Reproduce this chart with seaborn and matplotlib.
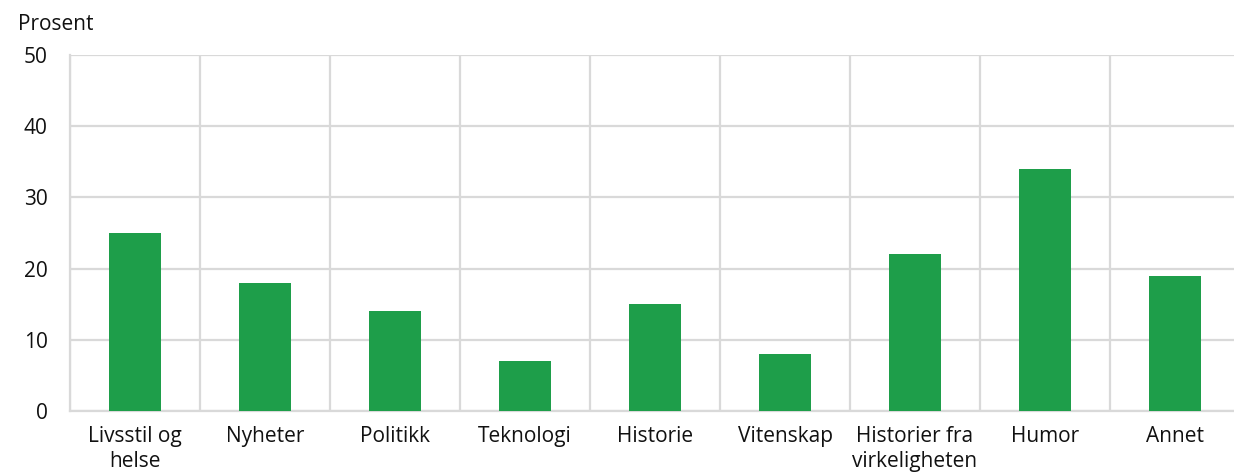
import pandas as pd
import numpy as np
import matplotlib
matplotlib.use('Agg')
import matplotlib.pyplot as plt
import seaborn as sns

categories = ["Livsstil og\nhelse", "Nyheter", "Politikk", "Teknologi", "Historie",
              "Vitenskap", "Historier fra\nvirkeligheten", "Humor", "Annet"]
values = [25, 18, 14, 7, 15, 8, 22, 34, 19]
yticks = [0, 10, 20, 30, 40, 50]

df = pd.DataFrame({"kategori": categories, "prosent": values})

sns.set_style("white")
plt.rcParams['font.family'] = ['Open Sans', 'DejaVu Sans']
plt.rcParams['font.size'] = 15
plt.rcParams['text.color'] = "#111111"
plt.rcParams['xtick.color'] = "#111111"
plt.rcParams['ytick.color'] = "#111111"

grid_col = "#d9d9d9"
fig = plt.figure(figsize=(12.34, 4.72), dpi=100)
ax = fig.add_axes([70 / 1234, 61 / 472, 1170 / 1234, 356 / 472])

sns.barplot(x="kategori", y="prosent", data=df, color="#1e9e4a", width=0.4,
            saturation=1, linewidth=0, ax=ax, zorder=3)

ax.set_xlim(-0.5, len(categories) - 0.5)
ax.set_ylim(0, 50)
ax.set_yticks(yticks)
ax.set_xticks(np.arange(len(categories) + 1) - 0.5, minor=True)
ax.grid(axis="y", color=grid_col, linewidth=1.6, zorder=0)
ax.grid(axis="x", which="minor", color=grid_col, linewidth=1.6, zorder=0)
ax.grid(axis="x", which="major", visible=False)
for side in ["top", "right"]:
    ax.spines[side].set_visible(False)
for side in ["left", "bottom"]:
    ax.spines[side].set_color(grid_col)
    ax.spines[side].set_linewidth(1.6)
ax.tick_params(axis="both", which="both", length=0, labelsize=15)
ax.tick_params(axis="y", pad=16)
ax.tick_params(axis="x", pad=11)
for lab in ax.get_xticklabels():
    lab.set_linespacing(1.25)
ax.set_xlabel("")
ax.set_ylabel("")

fig.text(18 / 1234, 1 - 25 / 472, "Prosent", ha="left", va="center", fontsize=15)

plt.savefig("out.png", dpi=100)
plt.close()
